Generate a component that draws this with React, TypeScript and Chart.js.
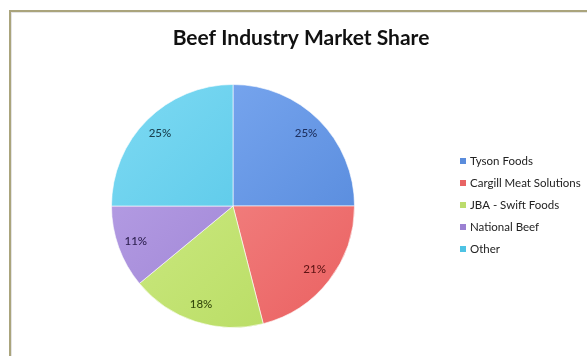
import React, { useEffect, useRef } from "react";
import { Chart, registerables } from "chart.js";

Chart.register(...registerables);

const TITLE = "Beef Industry Market Share";
const categories = ["Tyson Foods", "Cargill Meat Solutions", "JBA - Swift Foods", "National Beef", "Other"];
const shares = [25, 21, 18, 11, 25];
const colors = ["#4f84d8", "#ea6060", "#b5da5e", "#9679cf", "#45bfe3"];
const lightColors = ["#82aef4", "#f79695", "#d3ee8c", "#bba5e8", "#7edaf3"];
const legendColors = ["#5a8cdc", "#e86464", "#bcdc6c", "#9b80d2", "#4ec3e4"];
const labelColors = ["#1d2f5e", "#5e1414", "#34480c", "#2e2150", "#1a4150"];

const FONT = "Lato, 'Open Sans', sans-serif";

const decor = {
  id: "decor",
  beforeDraw(chart: any) {
    const ctx = chart.ctx;
    ctx.save();
    ctx.fillStyle = "#ffffff";
    ctx.fillRect(0, 0, chart.width, chart.height);
    ctx.fillStyle = "#e4e4e4";
    ctx.fillRect(11, 12, chart.width - 11, 1);
    ctx.fillRect(11, 12, 1, chart.height - 12);
    ctx.fillStyle = "#aaa47c";
    ctx.fillRect(9, 10, chart.width - 9, 2);
    ctx.fillRect(9, 10, 2, chart.height - 10);
    ctx.restore();
  },
  afterDraw(chart: any) {
    const ctx = chart.ctx;
    ctx.save();
    ctx.fillStyle = "#111111";
    ctx.font = `bold 21px ${FONT}`;
    ctx.textAlign = "center";
    ctx.textBaseline = "middle";
    ctx.fillText(TITLE, 301, 38);
    const meta = chart.getDatasetMeta(0);
    const total = shares.reduce((a, b) => a + b, 0);
    ctx.font = `500 11.5px ${FONT}`;
    meta.data.forEach((arc: any, i: number) => {
      const p = arc.getProps(["x", "y", "startAngle", "endAngle", "outerRadius"], true);
      const mid = (p.startAngle + p.endAngle) / 2;
      const d = p.outerRadius * 0.85;
      ctx.fillStyle = labelColors[i];
      ctx.fillText(Math.round((shares[i] / total) * 100) + "%", p.x + Math.cos(mid) * d, p.y + Math.sin(mid) * d);
    });
    ctx.textAlign = "left";
    ctx.font = `11.5px ${FONT}`;
    categories.forEach((c, i) => {
      const y = 161 + i * 22;
      ctx.fillStyle = legendColors[i];
      ctx.fillRect(460, y - 3, 6, 6);
      ctx.fillStyle = "#222222";
      ctx.fillText(c, 470, y);
    });
    ctx.restore();
  },
};

export default function App() {
  const ref = useRef<HTMLCanvasElement>(null);
  useEffect(() => {
    if (!ref.current) return;
    const chart = new Chart(ref.current, {
      type: "pie",
      data: {
        labels: categories,
        datasets: [
          {
            data: shares,
            backgroundColor: (c: any) => {
              const i = c.dataIndex;
              const area = c.chart.chartArea;
              if (!area) return colors[i];
              const g = c.chart.ctx.createLinearGradient(area.left, area.top, area.right, area.bottom);
              g.addColorStop(0, lightColors[i]);
              g.addColorStop(1, colors[i]);
              return g;
            },
            borderColor: "rgba(255,255,255,0.6)",
            borderWidth: 1,
          },
        ],
      },
      options: {
        responsive: false,
        maintainAspectRatio: false,
        animation: false,
        layout: { padding: { top: 84, left: 111, right: 232, bottom: 28 } },
        plugins: {
          legend: { display: false },
          title: { display: false },
          tooltip: { enabled: false },
        },
      },
      plugins: [decor],
    });
    return () => chart.destroy();
  }, []);
  return (
    <div style={{ position: "absolute", left: 0, top: 0, width: 587, height: 356 }}>
      <canvas ref={ref} width={587} height={356} style={{ display: "block" }} />
    </div>
  );
}
